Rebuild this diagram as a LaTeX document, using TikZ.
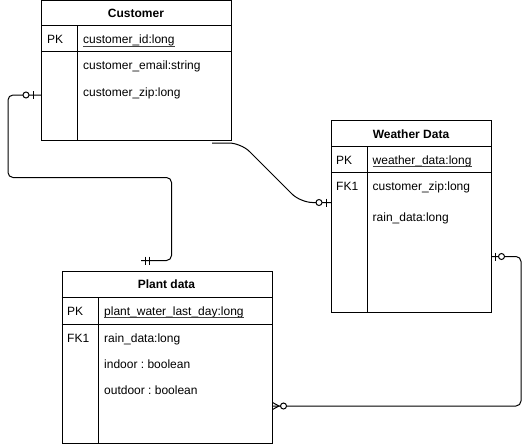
\documentclass[tikz,border=0pt]{standalone}
\usepackage{fontspec}
\setmainfont{Liberation Sans}
\usetikzlibrary{calc}
\frenchspacing
\begin{document}
\begin{tikzpicture}[x=1pt,y=-1pt,
  tbl/.style={draw,line width=1pt,rectangle,inner sep=0pt,anchor=north west},
  sep/.style={line width=1pt},
  ttl/.style={font=\bfseries\fontsize{12}{14}\selectfont,inner sep=0pt,anchor=base},
  fld/.style={font=\fontsize{12}{14}\selectfont,inner sep=0pt,anchor=base west},
  uline/.style={line width=0.7pt,draw=black!75},
  rel/.style={line width=1pt,rounded corners=5pt},
  mk/.style={line width=1pt},
  ring/.style={draw,line width=1pt,fill=white}
]
\useasboundingbox (0,0) rectangle (532,444);

% ---------------- Customer ----------------
\node[tbl,minimum width=190pt,minimum height=139.5pt] (cust) at (41,0.5) {};
\draw[sep] (41,26) -- (231,26);
\draw[sep] (41,52) -- (231,52);
\draw[sep] (77.5,26) -- (77.5,140);
\node[ttl] (custT) at (136,18) {Customer};
\node[fld] (custPK) at (47,44) {PK};
\node[fld] (custId) at (83,44) {customer\_id:long};
\draw[uline] ([yshift=-2pt]custId.base west) -- ([yshift=-2pt]custId.base east);
\node[fld] (custEmail) at (83,70) {customer\_email:string};
\node[fld] (custZip) at (83,96) {customer\_zip:long};

% ---------------- Weather Data ----------------
\node[tbl,minimum width=160pt,minimum height=191.5pt] (weather) at (331,120) {};
\draw[sep] (331,146) -- (491,146);
\draw[sep] (331,172) -- (491,172);
\draw[sep] (367,146) -- (367,311.5);
\node[ttl] (weatherT) at (411,138) {Weather Data};
\node[fld] (weatherPK) at (336,164) {PK};
\node[fld] (weatherId) at (372.5,164) {weather\_data:long};
\draw[uline] ([yshift=-2pt]weatherId.base west) -- ([yshift=-2pt]weatherId.base east);
\node[fld] (weatherFK) at (336,190) {FK1};
\node[fld] (weatherZip) at (372.5,190) {customer\_zip:long};
\node[fld] (weatherRain) at (372.5,221) {rain\_data:long};

% ---------------- Plant data ----------------
\node[tbl,minimum width=210pt,minimum height=172pt] (plant) at (61.5,271) {};
\draw[sep] (61.5,297) -- (271.5,297);
\draw[sep] (61.5,324) -- (271.5,324);
\draw[sep] (98,297) -- (98,443);
\node[ttl] (plantT) at (166.5,288.5) {Plant data};
\node[fld] (plantPK) at (67,315.5) {PK};
\node[fld] (plantId) at (104,315.5) {plant\_water\_last\_day:long};
\draw[uline] ([yshift=-2pt]plantId.base west) -- ([yshift=-2pt]plantId.base east);
\node[fld] (plantFK) at (67,342) {FK1};
\node[fld] (plantRain) at (104,342) {rain\_data:long};
\node[fld] (plantIn) at (104,368) {indoor : boolean};
\node[fld] (plantOut) at (104,394) {outdoor : boolean};

% ---------------- Connector 1: Customer -- Plant data ----------------
\coordinate (e1a) at (cust.west |- 0,95);
\coordinate (e1b) at (141,260.5);
\draw[rel] (e1a) -- (8,95) -- (8,177.5) -- (171.5,177.5) -- (171.5,260.5) -- (e1b);
\draw[mk] (33.5,91) -- (33.5,99);
\draw[ring] (26,95) circle[radius=3pt];
\draw[mk] (145.5,256.5) -- (145.5,264.5);
\draw[mk] (149.5,256.5) -- (149.5,264.5);

% ---------------- Connector 2: Customer -- Weather Data ----------------
\coordinate (e2a) at (212,143);
\coordinate (e2b) at (weather.west |- 0,202.5);
\draw[line width=1pt,rounded corners=12pt] (e2a) -- (241,143) -- (300.5,202.5) -- (e2b);
\draw[mk] (326.5,198.5) -- (326.5,206.5);
\draw[ring] (319,202.5) circle[radius=3pt];

% ---------------- Connector 3: Weather Data -- Plant data ----------------
\coordinate (e3a) at (weather.east |- 0,256.5);
\coordinate (e3b) at (plant.east |- 0,406);
\draw[rel] (e3a) -- (521,256.5) -- (521,406) -- (e3b);
\draw[mk] (495,252.5) -- (495,260.5);
\draw[ring] (501.5,256.5) circle[radius=3pt];
\draw[mk] (plant.east |- 0,402.5) -- (279,406) -- (plant.east |- 0,409.5);
\draw[ring] (283.5,406) circle[radius=3pt];
\end{tikzpicture}
\end{document}
